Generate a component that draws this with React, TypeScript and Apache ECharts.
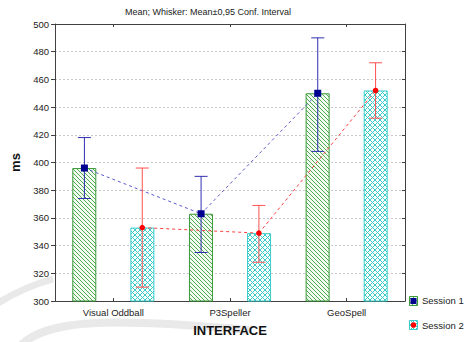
import React, { useEffect, useRef } from "react";
import * as echarts from "echarts";

const categories = ["Visual Oddball", "P3Speller", "GeoSpell"];
const session1Mean = [396, 363, 450];
const session1Low = [374, 335, 408];
const session1High = [418, 390, 490];
const session2Mean = [353, 349, 452];
const session2Low = [310, 328, 432];
const session2High = [396, 369, 472];
const yTicks = { min: 300, max: 500, interval: 20 };
const titleText = "Mean; Whisker: Mean\u00b10,95 Conf. Interval";
const seriesNames = ["Session 1", "Session 2"];

const FONT = "'Liberation Sans', Arial, sans-serif";

function makeHatch(): HTMLCanvasElement {
  const c = document.createElement("canvas");
  c.width = 4;
  c.height = 4;
  const ctx = c.getContext("2d")!;
  ctx.fillStyle = "#f2faf2";
  ctx.fillRect(0, 0, 4, 4);
  ctx.fillStyle = "#52ad52";
  for (let i = 0; i < 4; i++) ctx.fillRect(i, i, 1, 1);
  return c;
}

function makeCross(): HTMLCanvasElement {
  const n = 5;
  const c = document.createElement("canvas");
  c.width = n;
  c.height = n;
  const ctx = c.getContext("2d")!;
  ctx.fillStyle = "#ffffff";
  ctx.fillRect(0, 0, n, n);
  ctx.fillStyle = "#3ccccc";
  for (let i = 0; i < n; i++) {
    ctx.fillRect(i, i, 1, 1);
    ctx.fillRect(i, n - 1 - i, 1, 1);
  }
  return c;
}

export default function App() {
  const ref = useRef<HTMLDivElement>(null);
  useEffect(() => {
    if (!ref.current) return;
    const chart = echarts.init(ref.current, undefined, { renderer: "svg" });
    const hatch = { image: makeHatch(), repeat: "repeat" } as any;
    const cross = { image: makeCross(), repeat: "repeat" } as any;
    const offsetFrac = 29 / 117;

    const makeErr = (
      means: number[],
      lows: number[],
      highs: number[],
      sign: number,
      whiskerColor: string,
      lineColor: string,
      markerColor: string,
      square: boolean
    ) => ({
      type: "custom",
      z: 5,
      data: means.map((m, i) => [i, m, lows[i], highs[i]]),
      encode: { x: 0, y: 1 },
      renderItem: (params: any, api: any) => {
        const xi = api.value(0);
        const band = api.size([1, 0])[0];
        const off = band * offsetFrac * sign;
        const pm = api.coord([xi, api.value(1)]);
        const plo = api.coord([xi, api.value(2)]);
        const phi = api.coord([xi, api.value(3)]);
        const cx = pm[0] + off;
        const children: any[] = [];
        const idx = params.dataIndex;
        if (idx < means.length - 1) {
          const pn = api.coord([xi + 1, means[idx + 1]]);
          children.push({
            type: "line",
            shape: { x1: cx, y1: pm[1], x2: pn[0] + off, y2: pn[1] },
            style: { stroke: lineColor, lineWidth: 1, lineDash: [3, 3] },
          });
        }
        const cap = 6.5;
        children.push({
          type: "line",
          shape: { x1: cx, y1: plo[1], x2: cx, y2: phi[1] },
          style: { stroke: whiskerColor, lineWidth: 1 },
        });
        children.push({
          type: "line",
          shape: { x1: cx - cap, y1: plo[1], x2: cx + cap, y2: plo[1] },
          style: { stroke: whiskerColor, lineWidth: 1 },
        });
        children.push({
          type: "line",
          shape: { x1: cx - cap, y1: phi[1], x2: cx + cap, y2: phi[1] },
          style: { stroke: whiskerColor, lineWidth: 1 },
        });
        if (square) {
          children.push({
            type: "rect",
            shape: { x: cx - 3.5, y: pm[1] - 3.5, width: 7, height: 7 },
            style: { fill: markerColor },
          });
        } else {
          children.push({
            type: "circle",
            shape: { cx: cx, cy: pm[1], r: 2.8 },
            style: { fill: markerColor },
          });
        }
        return { type: "group", children };
      },
    });

    const option: any = {
      animation: false,
      backgroundColor: "#ffffff",
      textStyle: { fontFamily: FONT },
      grid: { left: 55, right: 62, top: 24, bottom: 37 },
      graphic: [
        {
          type: "bezierCurve",
          silent: true,
          z: -10,
          shape: { x1: -5, y1: 305, cpx1: 15, cpy1: 292, cpx2: 35, cpy2: 284, x2: 53, y2: 279 },
          style: { stroke: "#e9e9e9", lineWidth: 7, fill: null },
        },
        {
          type: "bezierCurve",
          silent: true,
          z: -10,
          shape: { x1: 18, y1: 348, cpx1: 45, cpy1: 318, cpx2: 110, cpy2: 318, x2: 250, y2: 330 },
          style: { stroke: "#e9e9e9", lineWidth: 8, fill: null },
        },
        {
          type: "text",
          x: 208,
          y: 12,
          style: {
            text: titleText,
            fontSize: 9,
            fontFamily: FONT,
            fill: "#222",
            align: "center",
            verticalAlign: "middle",
          },
        },
        {
          type: "rect",
          shape: { x: 409.5, y: 296.5, width: 8, height: 9 },
          style: { fill: hatch, stroke: "#3a9a3a", lineWidth: 1 },
        },
        {
          type: "rect",
          shape: { x: 410.5, y: 298, width: 6, height: 6 },
          style: { fill: "#000090" },
        },
        {
          type: "text",
          x: 422,
          y: 300.5,
          style: {
            text: seriesNames[0],
            fontSize: 9.5,
            fontFamily: FONT,
            fill: "#222",
            verticalAlign: "middle",
          },
        },
        {
          type: "rect",
          shape: { x: 409.5, y: 320.5, width: 8, height: 9 },
          style: { fill: cross, stroke: "#3ccccc", lineWidth: 1 },
        },
        {
          type: "circle",
          shape: { cx: 413.5, cy: 325, r: 2.8 },
          style: { fill: "#ff0000" },
        },
        {
          type: "text",
          x: 422,
          y: 325,
          style: {
            text: seriesNames[1],
            fontSize: 9.5,
            fontFamily: FONT,
            fill: "#222",
            verticalAlign: "middle",
          },
        },
      ],
      xAxis: [
        {
          type: "category",
          data: categories,
          name: "INTERFACE",
          nameLocation: "middle",
          nameGap: 23,
          nameTextStyle: { fontSize: 13, fontWeight: "bold", color: "#111", fontFamily: FONT },
          axisLine: { lineStyle: { color: "#404040", width: 1 } },
          axisTick: { show: true, inside: true, length: 3, alignWithLabel: true, lineStyle: { color: "#404040" } },
          axisLabel: { fontSize: 9.5, color: "#222", margin: 6, fontFamily: FONT },
          splitLine: { show: false },
        },
        {
          type: "category",
          data: categories,
          position: "top",
          axisLine: { lineStyle: { color: "#404040", width: 1 } },
          axisTick: { show: true, inside: true, length: 3, alignWithLabel: true, lineStyle: { color: "#404040" } },
          axisLabel: { show: false },
          splitLine: { show: false },
        },
      ],
      yAxis: [
        {
          type: "value",
          min: yTicks.min,
          max: yTicks.max,
          interval: yTicks.interval,
          name: "ms",
          nameLocation: "middle",
          nameGap: 33,
          nameRotate: 90,
          nameTextStyle: { fontSize: 13, fontWeight: "bold", color: "#111", fontFamily: FONT },
          axisLine: { show: true, lineStyle: { color: "#404040", width: 1 } },
          axisTick: { show: true, length: 4, lineStyle: { color: "#404040" } },
          axisLabel: { fontSize: 9.5, color: "#222", margin: 6, fontFamily: FONT },
          splitLine: { show: true, lineStyle: { color: "#c8c8c8", type: [2, 2], width: 1 } },
        },
        {
          type: "value",
          min: yTicks.min,
          max: yTicks.max,
          interval: yTicks.interval,
          position: "right",
          axisLine: { show: true, lineStyle: { color: "#404040", width: 1 } },
          axisTick: { show: true, inside: true, length: 3, lineStyle: { color: "#404040" } },
          axisLabel: { show: false },
          splitLine: { show: false },
        },
      ],
      series: [
        {
          name: seriesNames[0],
          type: "bar",
          data: session1Mean,
          barWidth: 24,
          barGap: "142%",
          itemStyle: { color: hatch, borderColor: "#3a9a3a", borderWidth: 1 },
        },
        {
          name: seriesNames[1],
          type: "bar",
          data: session2Mean,
          barWidth: 24,
          barGap: "142%",
          itemStyle: { color: cross, borderColor: "#3ccccc", borderWidth: 1 },
        },
        makeErr(session1Mean, session1Low, session1High, -1, "#3030b0", "#5a5ad0", "#000090", true),
        makeErr(session2Mean, session2Low, session2High, 1, "#ff5050", "#ff4040", "#ff0000", false),
      ],
    };
    chart.setOption(option);
    return () => chart.dispose();
  }, []);
  return <div ref={ref} style={{ width: 467, height: 342, position: "absolute", left: 0, top: 0 }} />;
}
